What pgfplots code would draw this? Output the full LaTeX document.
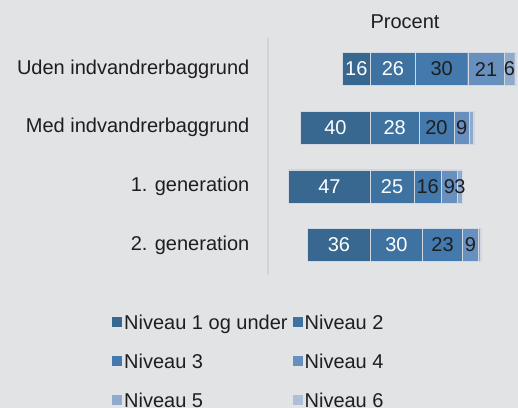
\documentclass[border=0pt]{standalone}
\usepackage{fontspec}
\setmainfont{Liberation Sans}
\usepackage{pgfplots}
\pgfplotsset{compat=1.18}

\definecolor{bg}{HTML}{E2E3E5}
\definecolor{axisline}{HTML}{D3D4D6}
\definecolor{txt}{HTML}{1E1E1E}
\definecolor{lvA}{HTML}{386890}
\definecolor{lvB}{HTML}{3E72A1}
\definecolor{lvC}{HTML}{4379AC}
\definecolor{lvD}{HTML}{6890BF}
\definecolor{lvE}{HTML}{8FAACB}
\definecolor{lvF}{HTML}{ADBED8}

\pgfplotsset{
  base/.style={
    scale only axis, width=250.6bp, height=237bp,
    at={(267.6bp,133bp)}, anchor=south west,
    xmin=-59, xmax=85, ymin=-0.53, ymax=3.51, y dir=reverse,
  },
  seg/.style={fill=#1, draw=bg!70!lvF, line width=0.4bp},
}

\begin{document}
\begin{tikzpicture}[font=\fontsize{20bp}{24bp}\selectfont, text=txt]
\useasboundingbox (0,0) rectangle (518bp,408bp);
\fill[bg] (0,0) rectangle (518bp,408bp);
\clip (0,0) rectangle (518bp,408bp);

% bars: an invisible offset first, so level 1 lies left of 0
\begin{axis}[base,
  xbar stacked, stack negative=on previous, bar width=33bp,
  hide x axis, separate axis lines,
  axis y line*=left,
  y axis line style={-, draw=axisline, line width=2bp},
  ytick={0,1,2,3},
  yticklabels={Uden indvandrerbaggrund, Med indvandrerbaggrund, 1. generation, 2. generation},
  major tick length=0,
  yticklabel style={inner sep=0pt, xshift=-18bp, text=txt, font=\fontsize{20bp}{24bp}\selectfont},
]
\addplot[draw=none, fill=none] coordinates {(-16,0) (-40,1) (-47,2) (-36,3)};
\addplot[seg=lvA] coordinates {(16,0) (40,1) (47,2) (36,3)};
\addplot[seg=lvB] coordinates {(26,0) (28,1) (25,2) (30,3)};
\addplot[seg=lvC] coordinates {(30,0) (20,1) (16,2) (23,3)};
\addplot[seg=lvD] coordinates {(21,0) (9,1) (9,2) (9,3)};
\addplot[seg=lvE] coordinates {(6,0) (2,1) (3,2) (1,3)};
\addplot[seg=lvF] coordinates {(1,0) (1,1) (0,2) (1,3)};
\end{axis}

% value labels at segment centres, and the legend
\begin{axis}[base, hide axis, clip=false,
  legend columns=2,
  legend cell align=left,
  legend style={at={(-0.621,-0.168)}, anchor=north west, draw=none, fill=none,
    inner sep=0pt, row sep=21bp,
    nodes={inner xsep=2bp, inner ysep=0pt, text height=14bp, text depth=4bp},
    /tikz/every even column/.append style={column sep=3bp},
    font=\fontsize{20bp}{24bp}\selectfont},
  legend image code/.code={\path[#1, draw=none] (0bp,-3bp) rectangle (10bp,7bp);},
]
\addlegendimage{fill=lvA}
\addlegendentry{Niveau 1 og under}
\addlegendimage{fill=lvB}
\addlegendentry{Niveau 2}
\addlegendimage{fill=lvC}
\addlegendentry{Niveau 3}
\addlegendimage{fill=lvD}
\addlegendentry{Niveau 4}
\addlegendimage{fill=lvE}
\addlegendentry{Niveau 5}
\addlegendimage{fill=lvF}
\addlegendentry{Niveau 6}
\addplot[forget plot, draw=none, mark=none, nodes near coords, point meta=explicit symbolic,
  every node near coord/.style={anchor=center, inner sep=0pt, text=white}]
  coordinates {(-8,0) [16] (-20,1) [40] (-23.5,2) [47] (-18,3) [36]
               (13,0) [26] (14,1) [28] (12.5,2) [25] (15,3) [30]};
\addplot[forget plot, draw=none, mark=none, nodes near coords, point meta=explicit symbolic,
  every node near coord/.style={anchor=center, inner sep=0pt, text=txt}]
  coordinates {(41,0) [30] (38,1) [20] (33,2) [16] (41.5,3) [23]
               (66.5,0) [21] (52.5,1) [9] (45.5,2) [9] (57.5,3) [9]
               (80,0) [6] (51.5,2) [3]};
\node[text=txt] at (axis cs:20,-0.8) {Procent};
\end{axis}
\end{tikzpicture}
\end{document}
